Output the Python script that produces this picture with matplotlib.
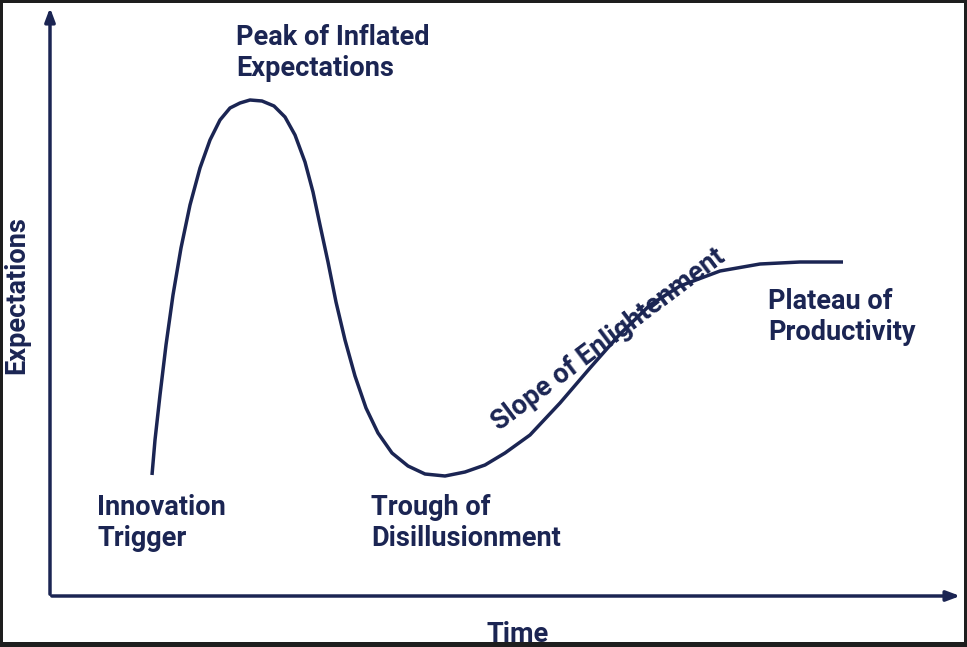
import matplotlib
matplotlib.use("Agg")
import matplotlib.pyplot as plt
from matplotlib.patches import Rectangle

# curve (pixel coordinates, y downward)
curve_x = [152, 155, 160, 166, 173, 181, 190, 200, 210, 220, 230, 240, 250, 262, 274, 285, 295, 305, 313, 320, 328, 336, 345, 355, 366, 378, 392, 408, 425, 445, 465, 485, 505, 530, 560, 590, 620, 650, 680, 720, 760, 800, 843]
curve_y = [475, 440, 395, 345, 295, 248, 205, 168, 140, 120, 108, 103, 100, 101, 106, 117, 135, 162, 192, 225, 262, 302, 340, 376, 408, 433, 453, 466, 474, 476, 472, 465, 453, 435, 403, 368, 334, 305, 286, 271, 264, 262, 262]

labels = ["Peak of Inflated\nExpectations", "Innovation\nTrigger", "Trough of\nDisillusionment", "Plateau of\nProductivity"]
label_pos = [(236, 24), (97, 494), (371, 494), (768, 288)]
navy = "#1b2553"

fig = plt.figure(figsize=(9.67, 6.47), dpi=100, facecolor="#1e1e1e")
ax = fig.add_axes([0, 0, 1, 1])
ax.set_xlim(0, 967)
ax.set_ylim(647, 0)
ax.axis("off")
ax.add_patch(Rectangle((3, 3), 961, 639, facecolor="white", edgecolor="none", zorder=0))

ax.plot(curve_x, curve_y, color=navy, lw=2.5, solid_capstyle="butt", zorder=2)

ax.annotate("", xy=(50, 5), xytext=(50, 597),
            arrowprops=dict(arrowstyle="-|>,head_length=0.8,head_width=0.3", color=navy, lw=2.5))
ax.annotate("", xy=(963, 596), xytext=(49, 596),
            arrowprops=dict(arrowstyle="-|>,head_length=0.8,head_width=0.3", color=navy, lw=2.5))

font = dict(family="Roboto", weight="bold", color=navy, fontsize=19.5)
for t, (x, y) in zip(labels, label_pos):
    ax.text(x, y, t, ha="left", va="top", linespacing=1.2, **font)

ax.text(608, 340, "Slope of Enlightenment", ha="center", va="center", rotation=37,
        rotation_mode="anchor", **font)
ax.text(518, 634, "Time", ha="center", va="center", **font)
ax.text(17, 295, "Expectations", ha="center", va="center", rotation=90, **font)

fig.savefig("out.png", dpi=100, facecolor=fig.get_facecolor())
